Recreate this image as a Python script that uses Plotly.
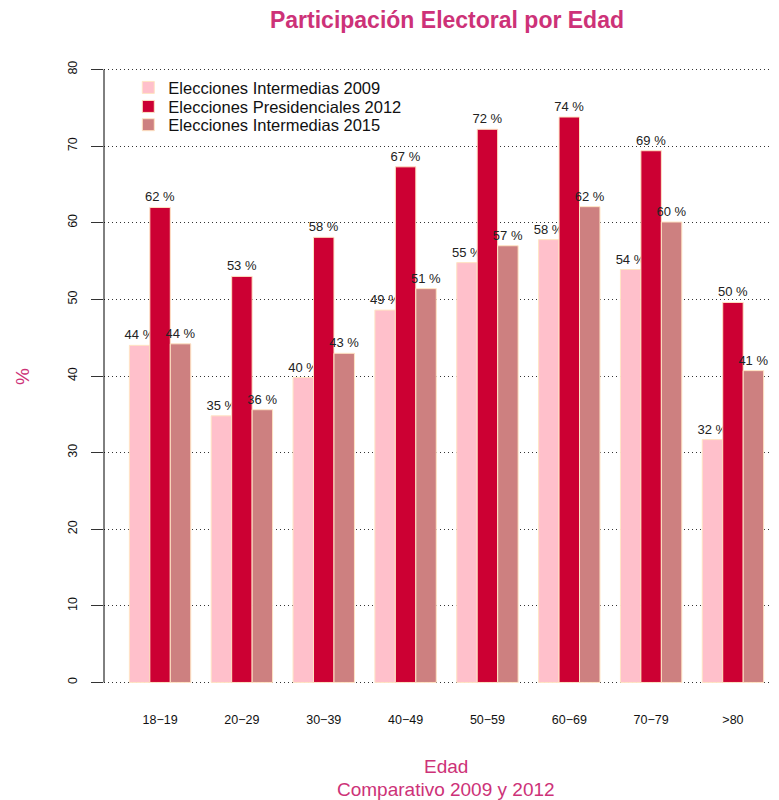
import plotly.graph_objects as go

edades = ["18−19", "20−29", "30−39", "40−49", "50−59", "60−69", "70−79", ">80"]
series_names = ["Elecciones Intermedias 2009", "Elecciones Presidenciales 2012", "Elecciones Intermedias 2015"]
v2009 = [44.0, 34.8, 39.8, 48.6, 54.8, 57.8, 53.9, 31.7]
v2012 = [62.0, 53.0, 58.1, 67.3, 72.2, 73.8, 69.4, 49.6]
v2015 = [44.2, 35.6, 42.96, 51.4, 57.0, 62.1, 60.1, 40.7]
y_ticks = [0, 10, 20, 30, 40, 50, 60, 70, 80]

colors = ["#FFC0CB", "#CC0033", "#CD8080"]
title_color = "#CD3278"
font_family = "Liberation Sans, Arial, sans-serif"
legend_ids = ["legend", "legend2", "legend3"]
legend_y = [0.9355, 0.9068, 0.8792]

fig = go.Figure()
for name, vals, col, lid in zip(series_names, [v2009, v2012, v2015], colors, legend_ids):
    fig.add_trace(go.Bar(
        x=edades, y=vals, name=name, legend=lid,
        marker=dict(color=col, line=dict(color="#FFE4C4", width=1)),
        text=[f"{round(v)} %" for v in vals],
        textposition="outside",
        textfont=dict(size=13, color="#222222", family=font_family),
        constraintext="none",
        cliponaxis=False,
    ))

legend_common = dict(x=0.036, xanchor="left", yanchor="middle", bgcolor="rgba(0,0,0,0)",
                     font=dict(size=16.5, color="#111111", family=font_family), itemwidth=30)

fig.update_layout(
    width=771, height=792,
    margin=dict(l=96, r=0, t=37, b=93, pad=0),
    paper_bgcolor="white", plot_bgcolor="white",
    barmode="group", bargap=0.25, bargroupgap=0,
    font=dict(family=font_family, color="#222222"),
    title=dict(text="<b>Participación Electoral por Edad</b>", x=0.5694, xanchor="center",
               y=0.9848, yanchor="middle",
               font=dict(size=23, color=title_color, family=font_family)),
    showlegend=True,
    legend=dict(y=legend_y[0], **legend_common),
    legend2=dict(y=legend_y[1], **legend_common),
    legend3=dict(y=legend_y[2], **legend_common),
    xaxis=dict(range=[-0.685, 7.5625], showline=False, showgrid=False, ticks="",
               tickfont=dict(size=12.5, color="#111111"), ticklabelstandoff=3, zeroline=False),
    yaxis=dict(range=[-3.2, 83.2], tickvals=y_ticks, ticktext=[str(t) for t in y_ticks],
               showgrid=True, gridcolor="#333333", griddash="1px,3px", gridwidth=1,
               zeroline=False, showline=False, ticks="outside", ticklen=12,
               tickcolor="#333333", tickangle=-90, tickfont=dict(size=12.5, color="#111111"),
               ticklabelstandoff=9),
    shapes=[dict(type="line", xref="paper", yref="y", x0=0, x1=0, y0=0, y1=80,
                 line=dict(color="black", width=1))],
    annotations=[
        dict(text="%", xref="paper", yref="paper", x=-0.1215, y=0.5, textangle=-90,
             xanchor="center", yanchor="middle",
             showarrow=False, font=dict(size=19, color=title_color)),
        dict(text="Edad", xref="paper", yref="paper", x=0.5067, y=0, yshift=-59,
             xanchor="center", yanchor="middle",
             showarrow=False, font=dict(size=19, color=title_color)),
        dict(text="Comparativo 2009 y 2012", xref="paper", yref="paper", x=0.5067, y=0, yshift=-82,
             xanchor="center", yanchor="middle",
             showarrow=False, font=dict(size=19, color=title_color)),
    ],
)

fig.write_html("out.html")
